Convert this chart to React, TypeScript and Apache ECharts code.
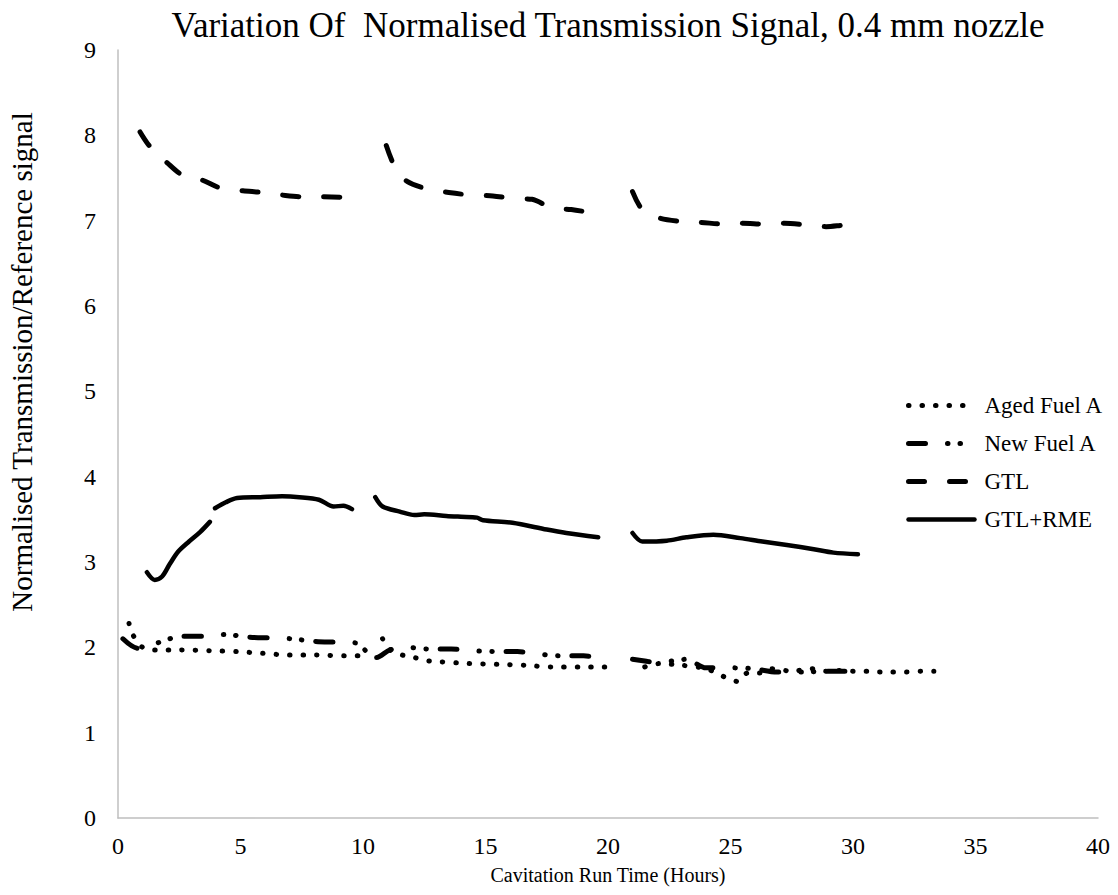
import React, { useEffect, useRef } from "react";
import * as echarts from "echarts";

const TITLE = "Variation Of  Normalised Transmission Signal, 0.4 mm nozzle";
const X_NAME = "Cavitation Run Time (Hours)";
const Y_NAME = "Normalised Transmission/Reference signal";
const SERIES_NAMES = ["Aged Fuel A", "New Fuel A", "GTL", "GTL+RME"];

// Aged Fuel A (hours, signal); "-" marks a gap between runs
const agedFuelA: Array<[number, number | string]> = [
  [0.45, 2.28], [0.6, 2.15], [1.0, 2.0], [1.5, 1.97], [2.6, 1.97], [3.75, 1.96],
  [4.85, 1.95], [5.9, 1.93], [7.0, 1.91], [8.1, 1.91], [9.3, 1.9], [9.8, 1.9],
  [10.3, "-"],
  [10.8, 2.1], [11.1, 1.97], [11.6, 1.91], [12.1, 1.88], [12.7, 1.84], [13.2, 1.83],
  [14.3, 1.81], [15.5, 1.8], [16.6, 1.79], [17.7, 1.77], [18.8, 1.77], [19.9, 1.77],
  [20.7, "-"],
  [21.5, 1.77], [22.1, 1.81], [23.0, 1.79], [24.0, 1.75], [24.7, 1.66], [25.3, 1.6],
  [25.7, 1.7], [26.2, 1.7], [26.7, 1.75], [27.5, 1.72], [28.3, 1.75], [28.9, 1.72],
  [29.4, 1.73], [30.0, 1.72], [30.6, 1.72], [31.1, 1.71], [31.6, 1.71], [32.2, 1.71],
  [32.8, 1.72], [33.3, 1.72],
];

// New Fuel A
const newFuelA: Array<[number, number | string]> = [
  [0.2, 2.1], [0.8, 1.99], [1.3, 2.02], [1.7, 2.06], [2.6, 2.13], [3.5, 2.13],
  [4.4, 2.15], [5.3, 2.12], [6.2, 2.11], [7.1, 2.1], [8.0, 2.07], [8.9, 2.06],
  [9.75, 2.05], [10.15, 1.95], [10.55, 1.88], [11.1, 1.97], [11.8, 2.0], [12.7, 1.98],
  [13.6, 1.98], [14.5, 1.96], [15.4, 1.95], [16.3, 1.95], [17.2, 1.92], [18.1, 1.9],
  [19.0, 1.9], [19.9, 1.87],
  [20.5, "-"],
  [21.0, 1.86], [21.5, 1.84], [22.0, 1.82], [22.6, 1.84], [23.2, 1.86], [24.0, 1.76],
  [24.9, 1.76], [25.9, 1.75], [26.9, 1.71], [27.9, 1.71], [28.9, 1.72], [30.0, 1.72],
];

// GTL
const gtl: Array<[number, number | string]> = [
  [0.9, 8.04], [1.3, 7.87], [2.0, 7.68], [2.6, 7.54], [3.4, 7.48], [4.2, 7.38],
  [5.1, 7.35], [5.9, 7.33], [6.7, 7.3], [7.55, 7.28], [8.4, 7.28], [9.3, 7.27], [9.6, 7.25],
  [10.3, "-"],
  [10.95, 7.88], [11.3, 7.63], [11.8, 7.46], [12.65, 7.37], [13.5, 7.33], [14.4, 7.3],
  [15.3, 7.29], [16.1, 7.26], [16.9, 7.25], [17.7, 7.15], [18.5, 7.13], [19.4, 7.09], [19.6, 7.08],
  [20.3, "-"],
  [21.0, 7.34], [21.4, 7.13], [22.1, 7.03], [23.0, 6.99], [23.8, 6.98], [24.7, 6.96],
  [25.5, 6.97], [26.4, 6.96], [27.2, 6.97], [28.1, 6.95], [28.9, 6.93], [29.8, 6.95], [30.0, 6.94],
];

// GTL+RME
const gtlRme: Array<[number, number | string]> = [
  [1.18, 2.88], [1.5, 2.79], [1.8, 2.83], [2.1, 2.97], [2.45, 3.12], [2.9, 3.24],
  [3.35, 3.35], [3.75, 3.47],
  [3.85, "-"],
  [3.96, 3.63], [4.4, 3.7], [4.86, 3.75], [5.8, 3.76], [6.7, 3.77], [7.4, 3.76],
  [8.2, 3.73], [8.8, 3.65], [9.2, 3.66], [9.55, 3.62],
  [10.0, "-"],
  [10.5, 3.76], [10.8, 3.65], [11.5, 3.59], [12.1, 3.55], [12.5, 3.56], [13.4, 3.54],
  [14.0, 3.53], [14.65, 3.52], [14.9, 3.49], [16.1, 3.46], [17.5, 3.38], [18.3, 3.34], [19.6, 3.29],
  [20.3, "-"],
  [21.0, 3.34], [21.4, 3.24], [22.4, 3.25], [23.2, 3.29], [24.3, 3.32], [25.4, 3.28],
  [26.3, 3.24], [27.3, 3.2], [28.4, 3.15], [29.2, 3.11], [30.2, 3.09],
];

const X_MIN = 0, X_MAX = 40, X_STEP = 5;
const Y_MIN = 0, Y_MAX = 9, Y_STEP = 1;

const FONT = "'Liberation Serif', 'Times New Roman', serif";

export default function App() {
  const ref = useRef<HTMLDivElement>(null);
  useEffect(() => {
    if (!ref.current) return;
    document.body.style.margin = "0";
    const chart = echarts.init(ref.current, undefined, { renderer: "svg" });
    const base = { type: "line", showSymbol: false, symbol: "none", smooth: 0.3, connectNulls: false };
    chart.setOption({
      animation: false,
      backgroundColor: "#ffffff",
      textStyle: { fontFamily: FONT, color: "#000" },
      title: {
        text: TITLE,
        left: 603,
        textAlign: "center",
        top: 3,
        textStyle: { fontFamily: FONT, fontSize: 35, fontWeight: "normal", color: "#000" },
      },
      grid: { left: 118, right: 20, top: 50, bottom: 77, containLabel: false },
      legend: {
        orient: "vertical",
        left: 906,
        top: 394,
        padding: 0,
        itemWidth: 66,
        itemHeight: 14,
        itemGap: 15,
        data: SERIES_NAMES,
        lineStyle: { width: "inherit" },
        itemStyle: { opacity: 0, color: "transparent", borderWidth: 0 },
        textStyle: { fontFamily: FONT, fontSize: 23, color: "#000", padding: [0, 0, 0, 5] },
      },
      graphic: [
        {
          type: "text",
          x: 22,
          y: 362,
          rotation: Math.PI / 2,
          style: {
            text: Y_NAME,
            fontFamily: FONT,
            fontSize: 29,
            fill: "#000",
            align: "center",
            verticalAlign: "middle",
          },
        },
      ],
      xAxis: {
        type: "value",
        min: X_MIN,
        max: X_MAX,
        interval: X_STEP,
        name: X_NAME,
        nameLocation: "middle",
        nameGap: 47,
        nameTextStyle: { fontFamily: FONT, fontSize: 20, color: "#000" },
        axisLine: { show: true, lineStyle: { color: "#bfbfbf", width: 1.5 } },
        axisTick: { show: false },
        splitLine: { show: false },
        axisLabel: { fontFamily: FONT, fontSize: 24, color: "#000", margin: 16 },
      },
      yAxis: {
        type: "value",
        min: Y_MIN,
        max: Y_MAX,
        interval: Y_STEP,
        axisLine: { show: true, lineStyle: { color: "#bfbfbf", width: 1.5 } },
        axisTick: { show: false },
        splitLine: { show: false },
        axisLabel: { fontFamily: FONT, fontSize: 24, color: "#000", margin: 22 },
      },
      series: [
        {
          ...base,
          name: SERIES_NAMES[0],
          data: agedFuelA,
          lineStyle: { color: "#000", width: 5, type: [0.5, 13], cap: "round", join: "round" },
          itemStyle: { color: "#000" },
        },
        {
          ...base,
          name: SERIES_NAMES[1],
          data: newFuelA,
          lineStyle: { color: "#000", width: 5, type: [17, 22, 0.5, 12, 0.5, 14], cap: "round", join: "round" },
          itemStyle: { color: "#000" },
        },
        {
          ...base,
          name: SERIES_NAMES[2],
          data: gtl,
          lineStyle: { color: "#000", width: 5, type: [16, 25], cap: "round", join: "round" },
          itemStyle: { color: "#000" },
        },
        {
          ...base,
          name: SERIES_NAMES[3],
          data: gtlRme,
          lineStyle: { color: "#000", width: 4.5, type: "solid", cap: "round", join: "round" },
          itemStyle: { color: "#000" },
        },
      ],
    });
    return () => chart.dispose();
  }, []);
  return <div ref={ref} style={{ position: "absolute", left: 0, top: 0, width: 1118, height: 895 }} />;
}
